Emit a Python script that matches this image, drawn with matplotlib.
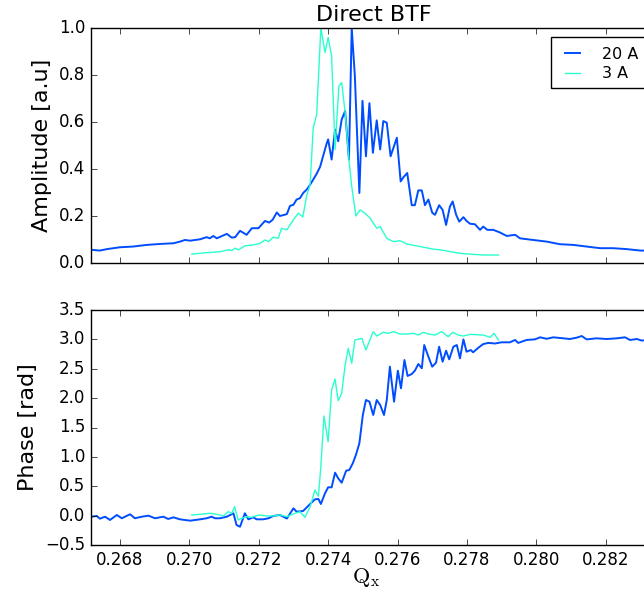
import matplotlib
matplotlib.use('Agg')
import matplotlib.pyplot as plt
from matplotlib.patches import Rectangle

plt.style.use('classic')

# ------------------------------------------------------------------
# data
# ------------------------------------------------------------------

# 20 A : amplitude
q20_amp = [0.26718, 0.26742, 0.26762, 0.26800, 0.26838, 0.26877, 0.26915,
           0.26954, 0.26973, 0.26987, 0.27002, 0.27031, 0.27050, 0.27059,
           0.27069, 0.27079, 0.27108, 0.27122, 0.27132, 0.27146, 0.27165,
           0.27180, 0.27199, 0.27218, 0.27230, 0.27240, 0.27252, 0.27261,
           0.27281, 0.27290, 0.27300, 0.27309, 0.27319, 0.27328, 0.27338,
           0.27348, 0.27357, 0.27367, 0.27377, 0.27396, 0.27400, 0.27410,
           0.27420, 0.27429, 0.27439, 0.27449, 0.27460, 0.27468, 0.27477,
           0.27490, 0.27499, 0.27509, 0.27519, 0.27529, 0.27540, 0.27550,
           0.27559, 0.27569, 0.27580, 0.27598, 0.27609, 0.27617, 0.27628,
           0.27641, 0.27650, 0.27660, 0.27670, 0.27679, 0.27689, 0.27700,
           0.27708, 0.27720, 0.27730, 0.27740, 0.27751, 0.27759, 0.27769,
           0.27778, 0.27790, 0.27799, 0.27809, 0.27823, 0.27838, 0.27847,
           0.27859, 0.27876, 0.27895, 0.27915, 0.27939, 0.27953, 0.27991,
           0.28030, 0.28068, 0.28107, 0.28145, 0.28184, 0.28222, 0.28261,
           0.28299, 0.28342, 0.28348]
a20 = [0.056, 0.053, 0.059, 0.067, 0.070, 0.077, 0.081, 0.084, 0.091, 0.098,
       0.095, 0.101, 0.110, 0.105, 0.115, 0.105, 0.124, 0.108, 0.110, 0.137,
       0.120, 0.148, 0.148, 0.179, 0.172, 0.184, 0.215, 0.200, 0.208, 0.243,
       0.248, 0.270, 0.276, 0.298, 0.312, 0.333, 0.355, 0.380, 0.410, 0.510,
       0.526, 0.440, 0.568, 0.518, 0.610, 0.647, 0.440, 1.000, 0.796, 0.298,
       0.690, 0.454, 0.680, 0.469, 0.607, 0.483, 0.604, 0.597, 0.454, 0.533,
       0.347, 0.365, 0.383, 0.246, 0.246, 0.309, 0.309, 0.246, 0.270, 0.214,
       0.205, 0.246, 0.226, 0.162, 0.240, 0.262, 0.205, 0.176, 0.195, 0.179,
       0.167, 0.165, 0.141, 0.155, 0.141, 0.141, 0.130, 0.115, 0.120, 0.105,
       0.098, 0.091, 0.080, 0.077, 0.070, 0.063, 0.063, 0.059, 0.053, 0.052,
       0.051]

# 3 A : amplitude
q3_amp = [0.27007, 0.27050, 0.27088, 0.27112, 0.27122, 0.27132, 0.27141,
          0.27160, 0.27184, 0.27204, 0.27218, 0.27228, 0.27242, 0.27256,
          0.27266, 0.27281, 0.27300, 0.27314, 0.27327, 0.27338, 0.27348,
          0.27357, 0.27367, 0.27379, 0.27391, 0.27400, 0.27410, 0.27420,
          0.27431, 0.27439, 0.27449, 0.27460, 0.27468, 0.27480, 0.27492,
          0.27506, 0.27521, 0.27540, 0.27550, 0.27569, 0.27588, 0.27607,
          0.27627, 0.27665, 0.27703, 0.27723, 0.27780, 0.27847, 0.27891]
a3 = [0.038, 0.044, 0.048, 0.056, 0.053, 0.063, 0.056, 0.073, 0.077, 0.084,
      0.098, 0.091, 0.110, 0.105, 0.148, 0.141, 0.184, 0.212, 0.196, 0.285,
      0.333, 0.575, 0.632, 1.000, 0.896, 0.960, 0.880, 0.483, 0.753, 0.768,
      0.640, 0.440, 0.326, 0.200, 0.226, 0.212, 0.191, 0.148, 0.155, 0.105,
      0.091, 0.095, 0.081, 0.070, 0.059, 0.056, 0.041, 0.034, 0.034]

# 20 A : phase
q20_ph = [0.26718, 0.26733, 0.26742, 0.26757, 0.26771, 0.26791, 0.26805,
          0.26829, 0.26843, 0.26863, 0.26882, 0.26901, 0.26925, 0.26939,
          0.26954, 0.26973, 0.27002, 0.27031, 0.27050, 0.27064, 0.27074,
          0.27088, 0.27108, 0.27127, 0.27136, 0.27146, 0.27160, 0.27170,
          0.27184, 0.27194, 0.27213, 0.27228, 0.27242, 0.27261, 0.27281,
          0.27300, 0.27309, 0.27328, 0.27348, 0.27362, 0.27372, 0.27379,
          0.27391, 0.27400, 0.27410, 0.27420, 0.27429, 0.27439, 0.27452,
          0.27461, 0.27471, 0.27480, 0.27490, 0.27500, 0.27509, 0.27519,
          0.27530, 0.27540, 0.27550, 0.27561, 0.27569, 0.27578, 0.27590,
          0.27601, 0.27610, 0.27620, 0.27629, 0.27641, 0.27650, 0.27660,
          0.27670, 0.27677, 0.27689, 0.27700, 0.27711, 0.27720, 0.27730,
          0.27740, 0.27749, 0.27761, 0.27771, 0.27780, 0.27790, 0.27799,
          0.27811, 0.27818, 0.27833, 0.27847, 0.27862, 0.27881, 0.27900,
          0.27924, 0.27939, 0.27948, 0.27972, 0.27996, 0.28011, 0.28030,
          0.28049, 0.28078, 0.28097, 0.28117, 0.28131, 0.28145, 0.28174,
          0.28203, 0.28232, 0.28256, 0.28270, 0.28290, 0.28304, 0.28342,
          0.28348]
p20 = [-0.018, -0.006, -0.052, -0.018, -0.074, 0.011, -0.045, 0.023, -0.045,
       -0.018, -0.001, -0.045, -0.018, -0.057, -0.029, -0.063, -0.086, -0.063,
       -0.045, -0.018, -0.045, -0.045, -0.018, 0.040, -0.160, -0.189, 0.040,
       -0.063, -0.029, -0.063, -0.063, -0.045, -0.006, 0.011, -0.050, 0.125,
       0.067, 0.079, 0.198, 0.277, 0.283, 0.198, 0.380, 0.482, 0.482, 0.731,
       0.635, 0.560, 0.765, 0.777, 0.890, 1.032, 1.231, 1.713, 1.968, 1.940,
       1.713, 1.968, 1.883, 1.713, 1.968, 2.535, 1.940, 2.467, 2.167, 2.649,
       2.377, 2.410, 2.467, 2.581, 2.508, 2.904, 2.705, 2.535, 2.603, 2.875,
       2.620, 2.807, 2.660, 2.875, 2.904, 2.677, 3.000, 2.790, 2.819, 2.780,
       2.858, 2.920, 2.940, 2.930, 2.950, 2.950, 2.990, 2.940, 2.990, 3.000,
       3.035, 3.010, 3.035, 3.018, 3.006, 3.030, 3.057, 3.000, 3.018, 3.006,
       3.018, 3.035, 2.990, 3.006, 2.980, 3.000, 3.005]

# 3 A : phase
q3_ph = [0.27007, 0.27031, 0.27059, 0.27079, 0.27098, 0.27112, 0.27122,
         0.27130, 0.27141, 0.27151, 0.27165, 0.27180, 0.27199, 0.27223,
         0.27242, 0.27261, 0.27281, 0.27305, 0.27319, 0.27333, 0.27348,
         0.27362, 0.27372, 0.27379, 0.27388, 0.27400, 0.27410, 0.27420,
         0.27429, 0.27439, 0.27449, 0.27458, 0.27468, 0.27477, 0.27497,
         0.27509, 0.27521, 0.27530, 0.27540, 0.27559, 0.27573, 0.27588,
         0.27607, 0.27627, 0.27646, 0.27660, 0.27674, 0.27689, 0.27708,
         0.27727, 0.27746, 0.27759, 0.27775, 0.27790, 0.27809, 0.27847,
         0.27867, 0.27878, 0.27891]
p3 = [0.011, 0.023, 0.040, 0.023, -0.006, 0.067, 0.040, 0.152, -0.074, -0.045,
      -0.018, -0.029, 0.011, -0.006, -0.006, 0.011, -0.018, 0.040, 0.067,
      -0.029, 0.152, 0.436, 0.330, 0.833, 1.696, 1.258, 2.138, 2.325, 1.957,
      2.082, 2.564, 2.848, 2.593, 2.990, 3.018, 2.819, 3.000, 3.131, 3.057,
      3.120, 3.103, 3.131, 3.091, 3.091, 3.103, 3.074, 3.120, 3.091, 3.074,
      3.131, 3.045, 3.120, 3.074, 3.057, 3.085, 3.074, 3.035, 3.103, 2.990]

labels = ['20 A', '3 A']
colors = [plt.cm.jet(0.2), plt.cm.jet(0.4)]
widths = [1.4, 1.0]

# ------------------------------------------------------------------
# figure
# ------------------------------------------------------------------

fig = plt.figure(figsize=(6.44, 5.98), dpi=100, facecolor='white')
W, H = 644.0, 598.0
left, right = 91 / W, 657 / W
ax1 = fig.add_axes([left, 1 - 263 / H, right - left, 235 / H])
ax2 = fig.add_axes([left, 1 - 545 / H, right - left, 235 / H], sharex=ax1)

ax1.plot(q20_amp, a20, color=colors[0], lw=widths[0], label=labels[0])
ax1.plot(q3_amp, a3, color=colors[1], lw=widths[1], label=labels[1])
ax2.plot(q20_ph, p20, color=colors[0], lw=widths[0])
ax2.plot(q3_ph, p3, color=colors[1], lw=widths[1])

ax1.set_xlim(0.267164, 0.28348)
ax1.set_ylim(0.0, 1.0)
ax2.set_ylim(-0.5, 3.5)
ax1.set_yticks([0.0, 0.2, 0.4, 0.6, 0.8, 1.0])
ax2.set_yticks([-0.5, 0.0, 0.5, 1.0, 1.5, 2.0, 2.5, 3.0, 3.5])
ax2.set_xticks([0.268, 0.270, 0.272, 0.274, 0.276, 0.278, 0.280, 0.282])
ax2.ticklabel_format(axis='x', useOffset=False)
plt.setp(ax1.get_xticklabels(), visible=False)

for ax in (ax1, ax2):
    ax.tick_params(labelsize=12)

ax1.set_title('Direct BTF', fontsize=16)
ax1.set_ylabel('Amplitude [a.u]', fontsize=16)
ax2.set_ylabel('Phase [rad]', fontsize=16)
ax2.set_xlabel(r'$\mathrm{Q_x}$', fontsize=16)
ax2.xaxis.set_label_coords(0.486, -0.09)

# legend: the box runs past the right edge of the picture, as in the original
leg = ax1.legend(loc='upper left', bbox_to_anchor=(0.8127, 0.9617),
                 borderaxespad=0.0, fontsize=11.5, handlelength=1.5,
                 handletextpad=1.1, borderpad=0.6, labelspacing=0.3,
                 frameon=False)
box = Rectangle((0.8127, 0.7447), 0.1926, 0.217, transform=ax1.transAxes,
                facecolor='white', edgecolor='black', lw=1.0, clip_on=False,
                zorder=4)
ax1.add_patch(box)
leg.set_zorder(5)

fig.savefig('out.png', dpi=100, facecolor='white')
